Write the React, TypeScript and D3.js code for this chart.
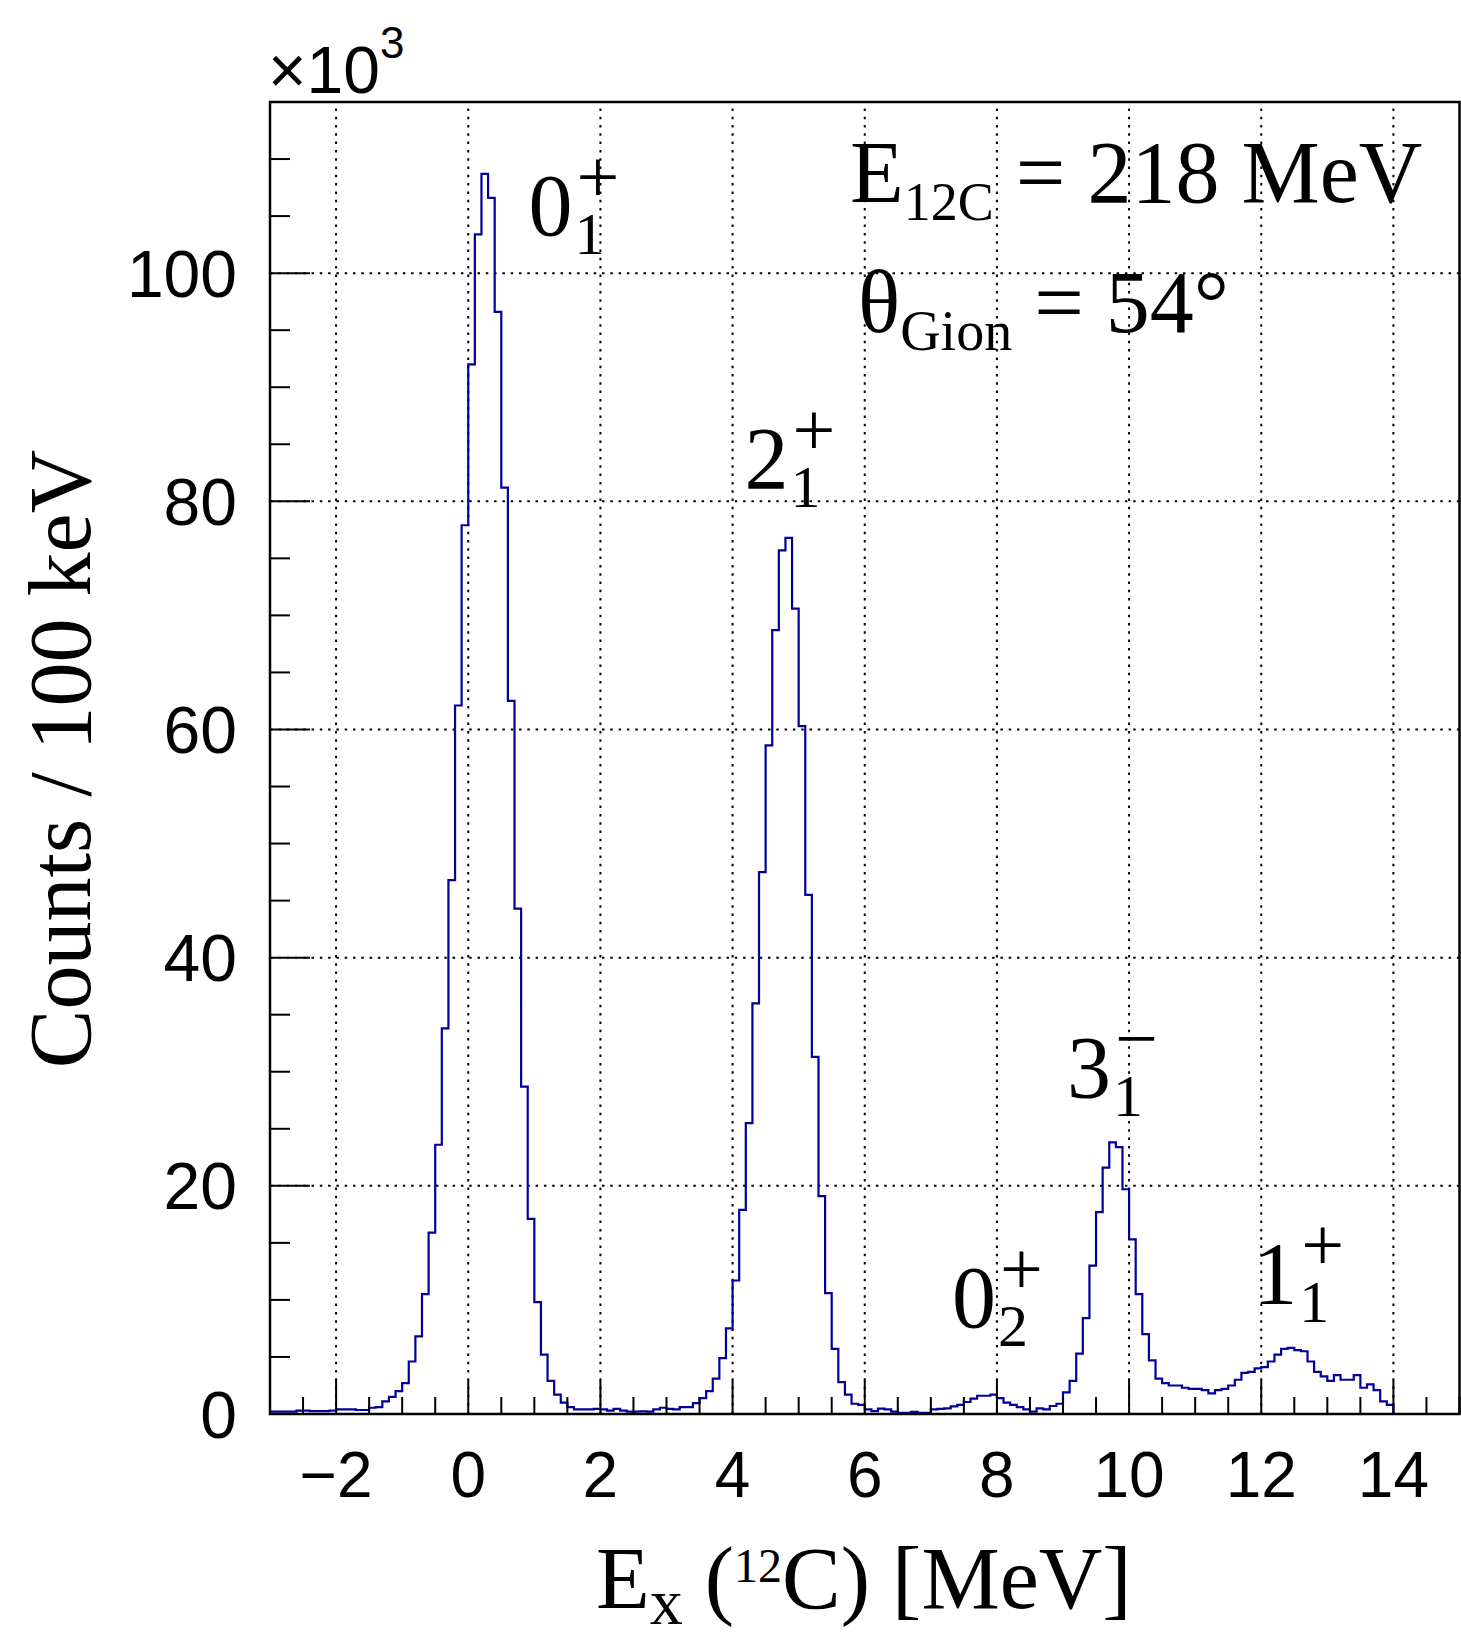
import React, { useEffect, useRef } from "react";
import * as d3 from "d3";

// 12C excitation spectrum, counts per 100 keV bin (units of 10^3)
const binLow = -3;
const binWidth = 0.1;
const counts = [
    // -3.0 .. -2.1
    0.2, 0.2, 0.2, 0.2, 0.3, 0.3, 0.25, 0.25, 0.25, 0.3,
    // -2.0 .. -1.1
    0.4, 0.4, 0.4, 0.35, 0.35, 0.55, 0.6, 1.1, 1.5, 2.0,
    // -1.0 .. -0.1
    2.7, 4.6, 6.8, 10.5, 15.9, 23.6, 33.8, 46.8, 62.1, 77.9,
    // 0.0 .. 0.9
    92.0, 103.4, 108.7, 106.6, 96.6, 81.2, 62.5, 44.3, 28.7, 17.1,
    // 1.0 .. 1.9
    9.8, 5.2, 2.9, 1.7, 1.0, 0.6, 0.4, 0.4, 0.4, 0.45,
    // 2.0 .. 2.9
    0.4, 0.3, 0.45, 0.3, 0.2, 0.2, 0.23, 0.2, 0.4, 0.55,
    // 3.0 .. 3.9
    0.45, 0.4, 0.6, 0.6, 0.95, 1.4, 2.0, 3.1, 4.9, 7.5,
    // 4.0 .. 4.9
    11.7, 17.9, 25.5, 36.0, 47.5, 58.6, 68.7, 75.7, 76.8, 70.6,
    // 5.0 .. 5.9
    60.3, 45.5, 31.3, 19.1, 10.6, 5.7, 2.8, 1.7, 0.9, 0.8,
    // 6.0 .. 6.9
    0.4, 0.26, 0.47, 0.4, 0.2, 0.1, 0.1, 0.18, 0.1, 0.1,
    // 7.0 .. 7.9
    0.4, 0.45, 0.5, 0.67, 0.8, 1.05, 1.35, 1.6, 1.6, 1.7,
    // 8.0 .. 8.9
    1.4, 1.0, 0.8, 0.6, 0.4, 0.2, 0.5, 0.4, 0.7, 0.9,
    // 9.0 .. 9.9
    1.9, 2.9, 5.3, 8.4, 13.0, 17.7, 21.6, 23.8, 23.4, 19.7,
    // 10.0 .. 10.9
    15.3, 10.5, 7.0, 4.7, 3.1, 2.7, 2.5, 2.5, 2.3, 2.2,
    // 11.0 .. 11.9
    2.2, 2.1, 1.8, 2.1, 2.2, 2.5, 3.0, 3.6, 3.7, 4.0,
    // 12.0 .. 12.9
    4.1, 4.6, 5.2, 5.7, 5.8, 5.6, 5.5, 4.6, 3.7, 3.3,
    // 13.0 .. 13.9
    2.9, 3.4, 3.0, 3.0, 3.4, 2.3, 2.6, 2.1, 1.1, 0.8,
    // 14.0 .. 14.9
    0, 0, 0, 0, 0, 0, 0, 0, 0, 0
];

const xDomain = [-3, 15];
const yDomain = [0, 115];
const xMajorTicks = [-2, 0, 2, 4, 6, 8, 10, 12, 14];
const xTickLabels = ["\u22122", "0", "2", "4", "6", "8", "10", "12", "14"];
const yMajorTicks = [0, 20, 40, 60, 80, 100];
const yTickLabels = ["0", "20", "40", "60", "80", "100"];

// level labels: base, subscript, superscript, anchored at (MeV, 10^3 counts)
const levelBase = ["0", "2", "0", "3", "1"];
const levelSub = ["1", "1", "2", "1", "1"];
const levelSup = ["+", "+", "+", "\u2212", "+"];
const levelX = [0.91, 4.18, 7.32, 9.06, 11.88];
const levelY = [103.3, 81.2, 7.6, 27.8, 9.7];

const W = 1461;
const H = 1636;
const frame = { left: 270, right: 1459.5, top: 102, bottom: 1414 };

const sans = "'Liberation Sans', Arial, Helvetica, sans-serif";
const serif = "'Liberation Serif', 'Times New Roman', serif";
const lineColor = "#00009c";

export default function App() {
    const ref = useRef<SVGSVGElement>(null);

    useEffect(() => {
        const svg = d3.select(ref.current);
        svg.selectAll("*").remove();

        const x = d3.scaleLinear().domain(xDomain).range([frame.left, frame.right]);
        const y = d3.scaleLinear().domain(yDomain).range([frame.bottom, frame.top]);

        svg.append("rect")
            .attr("width", W)
            .attr("height", H)
            .attr("fill", "#fff");

        // ---------- grid ----------
        const grid = svg.append("g")
            .attr("stroke", "#000")
            .attr("stroke-width", 2)
            .attr("stroke-dasharray", "2.5 5.8");

        grid.selectAll(".gx")
            .data(xMajorTicks)
            .enter()
            .append("line")
            .attr("x1", d => x(d))
            .attr("x2", d => x(d))
            .attr("y1", frame.bottom)
            .attr("y2", frame.top);

        grid.selectAll(".gy")
            .data(yMajorTicks.filter(d => d > 0))
            .enter()
            .append("line")
            .attr("x1", frame.left)
            .attr("x2", frame.right)
            .attr("y1", d => y(d))
            .attr("y2", d => y(d));

        // ---------- histogram ----------
        const pts: [number, number][] = counts.map((c, i) => [binLow + i * binWidth, c]);
        pts.push([binLow + counts.length * binWidth, counts[counts.length - 1]]);

        const line = d3.line<[number, number]>()
            .x(d => x(d[0]))
            .y(d => y(d[1]))
            .curve(d3.curveStepAfter);

        svg.append("path")
            .datum(pts)
            .attr("d", line)
            .attr("fill", "none")
            .attr("stroke", lineColor)
            .attr("stroke-width", 2.2);

        // ---------- ticks ----------
        const ticks = svg.append("g")
            .attr("stroke", "#000")
            .attr("stroke-width", 2);

        const xMinor = d3.range(xDomain[0], xDomain[1] + 0.01, 0.5)
            .filter(v => !xMajorTicks.includes(v));
        ticks.selectAll(".xminor")
            .data(xMinor)
            .enter()
            .append("line")
            .attr("x1", d => x(d))
            .attr("x2", d => x(d))
            .attr("y1", frame.bottom)
            .attr("y2", frame.bottom - 17);
        ticks.selectAll(".xmajor")
            .data(xMajorTicks)
            .enter()
            .append("line")
            .attr("x1", d => x(d))
            .attr("x2", d => x(d))
            .attr("y1", frame.bottom)
            .attr("y2", frame.bottom - 34);

        const yMinor = d3.range(yDomain[0], yDomain[1] + 0.01, 5)
            .filter(v => !yMajorTicks.includes(v));
        ticks.selectAll(".yminor")
            .data(yMinor)
            .enter()
            .append("line")
            .attr("x1", frame.left)
            .attr("x2", frame.left + 20)
            .attr("y1", d => y(d))
            .attr("y2", d => y(d));
        ticks.selectAll(".ymajor")
            .data(yMajorTicks)
            .enter()
            .append("line")
            .attr("x1", frame.left)
            .attr("x2", frame.left + 40)
            .attr("y1", d => y(d))
            .attr("y2", d => y(d));

        // ---------- frame ----------
        svg.append("rect")
            .attr("x", frame.left)
            .attr("y", frame.top)
            .attr("width", frame.right - frame.left)
            .attr("height", frame.bottom - frame.top)
            .attr("fill", "none")
            .attr("stroke", "#000")
            .attr("stroke-width", 2.5);

        // ---------- tick labels ----------
        svg.selectAll(".xlab")
            .data(xMajorTicks)
            .enter()
            .append("text")
            .attr("x", d => x(d))
            .attr("y", 1497)
            .attr("text-anchor", "middle")
            .attr("font-family", sans)
            .attr("font-size", 64)
            .text((d, i) => xTickLabels[i]);

        svg.selectAll(".ylab")
            .data(yMajorTicks)
            .enter()
            .append("text")
            .attr("x", 237)
            .attr("y", d => y(d) + 23.5)
            .attr("text-anchor", "end")
            .attr("font-family", sans)
            .attr("font-size", 66)
            .text((d, i) => yTickLabels[i]);

        // x10^3 multiplier
        const mult = svg.append("text")
            .attr("x", 268)
            .attr("y", 93)
            .attr("font-family", sans)
            .attr("font-size", 66);
        mult.append("tspan").text("\u00d710");
        mult.append("tspan").attr("font-size", 44).attr("dy", -35).text("3");

        // ---------- axis titles ----------
        const xt = svg.append("text")
            .attr("x", 596)
            .attr("y", 1608)
            .attr("font-family", serif)
            .attr("font-size", 88)
            .style("white-space", "pre");
        xt.append("tspan").text("E");
        xt.append("tspan").attr("font-size", 66).attr("dy", 16).text("x");
        xt.append("tspan").attr("dy", -16).text(" (");
        xt.append("tspan").attr("font-size", 48).attr("dy", -26).text("12");
        xt.append("tspan").attr("dy", 26).text("C) [MeV]");

        svg.append("text")
            .attr("transform", "translate(90,759) rotate(-90)")
            .attr("text-anchor", "middle")
            .attr("font-family", serif)
            .attr("font-size", 88)
            .text("Counts / 100 keV");

        // ---------- beam annotations ----------
        const e1 = svg.append("text")
            .attr("x", 850)
            .attr("y", 202)
            .attr("font-family", serif)
            .attr("font-size", 88)
            .style("white-space", "pre");
        e1.append("tspan").text("E");
        e1.append("tspan").attr("font-size", 54).attr("dy", 18).text("12C");
        e1.append("tspan").attr("dy", -18).text(" = 218 MeV");

        const e2 = svg.append("text")
            .attr("x", 858)
            .attr("y", 332)
            .attr("font-family", serif)
            .attr("font-size", 88)
            .style("white-space", "pre");
        e2.append("tspan").text("\u03b8");
        e2.append("tspan").attr("font-size", 56).attr("dy", 18).text("Gion");
        e2.append("tspan").attr("dy", -18).text(" = 54\u00b0");

        // ---------- level labels ----------
        const levels = svg.append("g").attr("font-family", serif).attr("fill", "#000");
        levelBase.forEach((b, i) => {
            const x0 = x(levelX[i]);
            const y0 = y(levelY[i]);
            levels.append("text").attr("x", x0).attr("y", y0).attr("font-size", 88).text(b);
            levels.append("text").attr("x", x0 + 46).attr("y", y0 + 19).attr("font-size", 60).text(levelSub[i]);
            levels.append("text").attr("x", x0 + 48).attr("y", y0 - 33).attr("font-size", 76).text(levelSup[i]);
        });
    }, []);

    return (
        <div style={{ position: "absolute", left: 0, top: 0 }}>
            <svg ref={ref} width={W} height={H} style={{ display: "block" }} />
        </div>
    );
}
